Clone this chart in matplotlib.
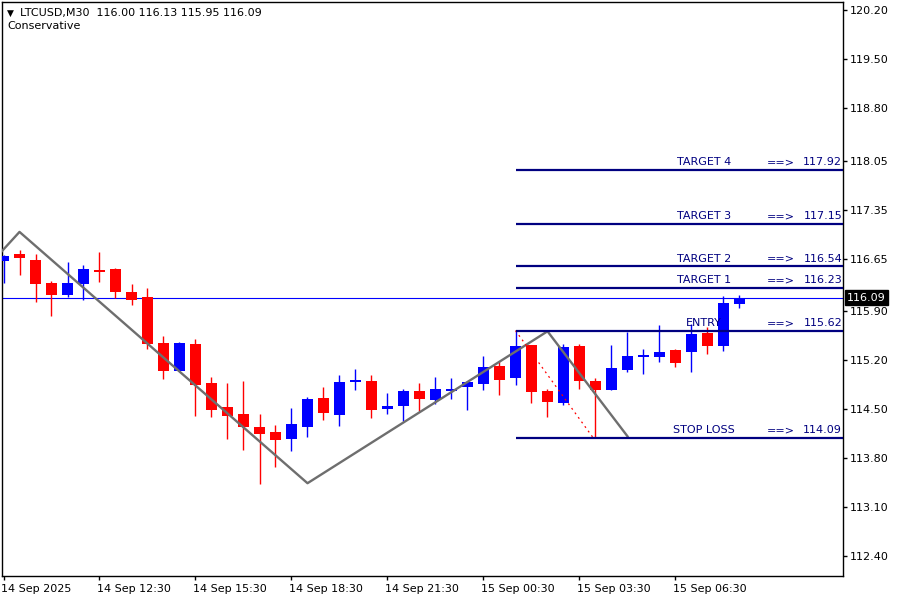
# -*- coding: utf-8 -*-
"""
LTCUSD M30 candles with trade levels (MT4 style)
"""

import matplotlib
matplotlib.use('Agg')
import matplotlib.pyplot as plt
import matplotlib.transforms as mtrans

# candles, 30 min bars, first bar = 14 Sep 09:30
opens = [116.62, 116.71, 116.63, 116.30, 116.13, 116.28, 116.49, 116.50, 116.17, 116.10,
         115.44, 115.04, 115.43, 114.87, 114.53, 114.43, 114.24, 114.17, 114.07, 114.25,
         114.66, 114.42, 114.89, 114.90, 114.50, 114.54, 114.76, 114.63, 114.76, 114.81,
         114.86, 115.11, 114.94, 115.41, 114.76, 114.59, 115.40, 114.90, 114.77, 115.06,
         115.25, 115.24, 115.34, 115.32, 115.59, 115.40, 116.00]
highs = [116.70, 116.77, 116.72, 116.33, 116.60, 116.56, 116.74, 116.52, 116.29, 116.23,
         115.55, 115.46, 115.50, 114.96, 114.87, 114.90, 114.43, 114.27, 114.51, 114.67,
         114.82, 114.99, 115.07, 114.99, 114.73, 114.79, 114.87, 114.96, 114.94, 114.90,
         115.26, 115.19, 115.63, 115.41, 114.79, 115.43, 115.43, 114.94, 115.41, 115.60,
         115.36, 115.70, 115.36, 115.72, 115.67, 116.12, 116.13]
lows = [116.30, 116.42, 116.03, 115.83, 116.10, 116.06, 116.31, 116.08, 115.98, 115.36,
        114.93, 115.04, 114.40, 114.38, 114.07, 113.91, 113.43, 113.67, 113.90, 114.10,
        114.35, 114.26, 114.77, 114.37, 114.43, 114.33, 114.47, 114.57, 114.64, 114.49,
        114.77, 114.70, 114.84, 114.58, 114.39, 114.56, 114.79, 114.09, 114.77, 115.03,
        115.00, 115.17, 115.10, 115.03, 115.29, 115.33, 115.95]
closes = [116.69, 116.66, 116.29, 116.13, 116.30, 116.50, 116.46, 116.17, 116.06, 115.43,
          115.04, 115.44, 114.84, 114.49, 114.40, 114.24, 114.14, 114.06, 114.29, 114.64,
          114.45, 114.89, 114.92, 114.49, 114.54, 114.76, 114.64, 114.79, 114.79, 114.88,
          115.10, 114.91, 115.40, 114.74, 114.60, 115.39, 114.90, 114.77, 115.09, 115.26,
          115.26, 115.31, 115.16, 115.57, 115.40, 116.02, 116.09]

# zigzag (bar index, price)
zz_x = [-1, 1, 19, 34, 39]
zz_y = [116.53, 117.03, 113.44, 115.61, 114.11]

# red dashed line
dash_x = [32, 36.85]
dash_y = [115.62, 114.09]

# trade levels
level_names = ['TARGET 4', 'TARGET 3', 'TARGET 2', 'TARGET 1', 'ENTRY', 'STOP LOSS']
level_values = [117.92, 117.15, 116.54, 116.23, 115.62, 114.09]
level_start = 32

last_price = 116.09
header = 'LTCUSD,M30  116.00 116.13 115.95 116.09'

yticks = [120.20, 119.50, 118.80, 118.05, 117.35, 116.65, 115.90, 115.20, 114.50,
          113.80, 113.10, 112.40]
xtick_bars = [0, 6, 12, 18, 24, 30, 36, 42]
xtick_labels = ['14 Sep 2025', '14 Sep 12:30', '14 Sep 15:30', '14 Sep 18:30',
                '14 Sep 21:30', '15 Sep 00:30', '15 Sep 03:30', '15 Sep 06:30']

plt.rcParams['font.family'] = ['DejaVu Sans']

fig = plt.figure(figsize=(9, 6), dpi=100)
fig.patch.set_facecolor('white')
ax = fig.add_axes([2/900, 24/600, 841/900, 574/600])

ymin, ymax = 120.343 - 576/70, 120.343 - 2/70
xmin, xmax = (2-3.5)/16, (843-3.5)/16
ax.set_xlim(xmin, xmax)
ax.set_ylim(ymin, ymax)

# current price line
ax.axhline(last_price, color='#0000ff', lw=0.8, zorder=1)

# candles
bw = 0.69
for i in range(len(opens)):
    o, h, l, c = opens[i], highs[i], lows[i], closes[i]
    col = '#0000ff' if c >= o else '#ff0000'
    ax.vlines(i, l, h, color=col, lw=1.0, zorder=2)
    bottom = min(o, c)
    height = max(abs(c - o), 0.02)
    ax.bar(i, height, bottom=bottom, width=bw, color=col, lw=0, zorder=3)

# zigzag
ax.plot(zz_x, zz_y, color='#6e6e6e', lw=1.7, zorder=4)
ax.plot(dash_x, dash_y, color='#ff0000', lw=0.9, ls=(0, (1.5, 3)), zorder=4)

# levels
for name, val in zip(level_names, level_values):
    ax.hlines(val, level_start, xmax, color='#000080', lw=1.6, zorder=5)
    ax.text(43.8, val + 0.035, name, color='#000080', fontsize=8,
            ha='center', va='bottom')
    ax.text(47.7, val + 0.035, '==>', color='#000080', fontsize=8,
            ha='left', va='bottom')
    ax.text(xmax - 0.05, val + 0.035, '%.2f' % val, color='#000080', fontsize=8,
            ha='right', va='bottom')

# axes look
for s in ax.spines.values():
    s.set_color('black')
    s.set_linewidth(1)
ax.yaxis.tick_right()
ax.set_yticks(yticks)
ax.set_yticklabels(['%.2f' % v for v in yticks])
ax.set_xticks(xtick_bars)
ax.set_xticklabels(xtick_labels, ha='left')
ax.tick_params(axis='both', direction='out', length=3, width=1, labelsize=8,
               colors='black', pad=2)
ax.tick_params(axis='x', pad=3)
for lab in ax.get_xticklabels():
    lab.set_transform(lab.get_transform() + mtrans.ScaledTranslation(-2/72, 0, fig.dpi_scale_trans))

# last price box
trans = mtrans.blended_transform_factory(ax.transAxes, ax.transData)
ax.text(1.005, last_price, '%.2f' % last_price, transform=trans, color='white',
        fontsize=8, ha='left', va='center',
        bbox=dict(boxstyle='square,pad=0.2', fc='black', ec='black'), clip_on=False)

# header
fig.text(7/900, 1 - 13/600, u'\u25bc', fontsize=6.5, va='center', ha='left')
fig.text(20/900, 1 - 13/600, header, fontsize=8, va='center', ha='left')
fig.text(7/900, 1 - 26/600, 'Conservative', fontsize=8, va='center', ha='left')

fig.savefig('out.png', dpi=100)
